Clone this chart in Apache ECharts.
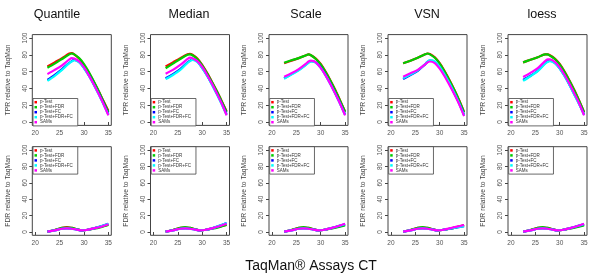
<!DOCTYPE html>
<html>
<head>
<meta charset="utf-8">
<script src="https://cdn.jsdelivr.net/npm/echarts@6/dist/echarts.min.js"></script>
<style>
  html, body { margin: 0; padding: 0; background: #fff; }
  #chart { width: 600px; height: 279px; }
</style>
</head>
<body>
<div id="chart"></div>
<script>
const panelNames = ['Quantile', 'Median', 'Scale', 'VSN', 'loess']
const seriesNames = ['p-Test', 'p-Test+FDR', 'p-Test+FC', 'p-Test+FDR+FC', 'SAMs']
const seriesColors = ['#ff0000', '#00cd00', '#0000ff', '#00ffff', '#ff00ff']
const xTicks = [20, 25, 30, 35]
const yTicks = [0, 20, 40, 60, 80, 100]

// TaqMan CT values where the curves are sampled
const xTpr = [22.5, 24, 25.5, 27, 27.5, 28, 29, 30, 31, 32, 33, 34, 35]
const xFdr = [22.5, 24, 25.5, 26.5, 27.5, 28.5, 29.5, 30.5, 32, 33.5, 35]

// TPR, rows: p-Test, +FDR, +FC, +FDR+FC, SAMs
const tprQuantile = [
  [66, 71, 76, 81.5, 82, 80.5, 75.5, 68, 58.5, 48, 37, 25, 13.5],
  [64.5, 69.5, 75, 80.5, 81.5, 80.5, 76, 69, 59.5, 48.5, 37, 24.5, 12],
  [50, 56, 63, 70.5, 72.5, 74, 71.5, 64.5, 55.5, 45, 34, 22, 9.5],
  [49, 55, 62, 70, 72, 73.5, 71, 64, 55, 44.5, 33, 21, 8.5],
  [57, 62, 67.5, 74.5, 76, 75.5, 72, 65, 55.5, 45, 33.5, 21.5, 8]
]
const tprMedian = [
  [66, 71, 76, 80.5, 81, 80, 75.5, 68, 58.5, 48, 37, 25, 13],
  [64, 69.5, 75, 80, 80.5, 79.5, 75, 67.5, 58, 47.5, 36.5, 24.5, 12],
  [52, 57, 63, 71, 73, 74.5, 72, 64.5, 55.5, 45, 34, 22, 9.5],
  [51, 56, 62, 70.5, 72.5, 74, 71.5, 64, 55, 44.5, 33, 21, 8.5],
  [57.5, 62, 68, 75, 76.5, 76, 72.5, 65.5, 56, 45.5, 34, 22, 8]
]
const tprScale = [
  [70, 73, 76, 79.5, 80.5, 79.5, 75.5, 69, 60, 49.5, 38, 25.5, 12.5],
  [70.5, 73.5, 76, 79.5, 80.5, 79.5, 75, 68.5, 59.5, 49, 37.5, 25, 12],
  [52, 57, 62, 68.5, 71, 72.5, 71, 65, 56, 45.5, 34, 22, 9],
  [51.5, 56.5, 61.5, 68, 70.5, 72, 70.5, 64.5, 55.5, 45, 33.5, 21.5, 8.5],
  [54, 58, 63, 69.5, 72, 73, 71, 64.5, 55.5, 45, 33.5, 21.5, 8]
]
const tprVSN = [
  [70, 73, 76.5, 80.5, 81.5, 81, 77, 70, 60.5, 50, 38.5, 26, 12],
  [70, 73, 76.5, 80.5, 81.5, 80.5, 76.5, 69.5, 60, 49.5, 38, 25.5, 11.5],
  [51, 56, 61, 68.5, 71.5, 73, 71.5, 65, 56, 45.5, 34, 22, 8.5],
  [52, 56.5, 61.5, 69, 72, 73.5, 72, 65.5, 56.5, 46, 34.5, 22, 8],
  [54, 58, 62, 68.5, 71, 72, 70, 63.5, 54.5, 44, 33, 21, 7]
]
const tprLoess = [
  [71, 74, 77, 80.5, 80.5, 79.5, 75.5, 69, 60, 49.5, 38, 25.5, 12],
  [71, 74, 77, 80.5, 80.5, 79, 75, 68.5, 59.5, 49, 37.5, 25, 11.5],
  [50, 55, 61, 70, 72, 73, 70.5, 64, 55, 44.5, 33, 21.5, 9],
  [49, 54.5, 60.5, 69.5, 71.5, 72.5, 70, 63.5, 54.5, 44, 32.5, 21, 8.5],
  [53.5, 58.5, 64, 72.5, 74.5, 74.5, 71.5, 65, 56, 45.5, 34, 22, 8]
]

// FDR, same row order
const fdrQuantile = [
  [0.5, 2.5, 5, 6, 5, 3.5, 2, 2.5, 4.5, 6.5, 9],
  [0.5, 2.5, 5, 5.5, 5, 3.5, 2, 2.5, 4, 6, 8.5],
  [0.5, 2, 4, 4.5, 4, 3, 2, 2.5, 4.5, 7, 10],
  [0.5, 2, 4, 4.5, 4, 3, 2, 2.5, 4.5, 7, 10],
  [0.5, 2, 4, 4.5, 4, 3, 2, 2.5, 4.5, 6.5, 9.5]
]
const fdrMedian = [
  [0.5, 2.5, 5, 5.5, 5, 3.5, 2, 2.5, 4.5, 6.5, 9],
  [0.5, 2.5, 5, 6, 5, 3.5, 2, 2.5, 4, 6, 8.5],
  [0.5, 2, 4, 4.5, 4, 3, 2, 2.5, 4.5, 7.5, 11],
  [0.5, 2, 4, 4.5, 4, 3, 2, 2.5, 4.5, 7.5, 11],
  [0.5, 2, 4, 4.5, 4, 3, 2, 2.5, 4.5, 7, 10]
]
const fdrScale = [
  [0.5, 2.5, 5, 5.5, 5, 3.5, 2, 2.5, 4.5, 6.5, 9],
  [0.5, 2.5, 5, 6, 5, 3.5, 2, 2.5, 4, 6, 8],
  [0.5, 2, 4, 4.5, 4, 3, 2, 2.5, 4.5, 7, 9.5],
  [0.5, 2, 4, 4.5, 4, 3, 2, 2.5, 4.5, 7, 9.5],
  [0.5, 2, 4, 4.5, 4, 3, 2, 2.5, 4.5, 7, 10]
]
const fdrVSN = [
  [0.5, 2.5, 5, 5.5, 5, 3.5, 2, 2.5, 4, 6, 8.5],
  [0.5, 2.5, 5, 6, 5, 3.5, 2, 2.5, 4, 6, 8],
  [0.5, 2, 4, 4.5, 4, 3, 2, 2.5, 4, 5.5, 7],
  [0.5, 2, 4, 4.5, 4, 3, 2, 2.5, 4, 5.5, 7],
  [0.5, 2, 4, 4.5, 4, 3, 2, 2.5, 4.5, 6.5, 8.5]
]
const fdrLoess = [
  [0.5, 2.5, 5, 5.5, 5, 3.5, 2, 2.5, 4.5, 6.5, 9],
  [0.5, 2.5, 5, 6, 5, 3.5, 2, 2.5, 4, 6, 8],
  [0.5, 2, 4, 4.5, 4, 3, 2, 2.5, 4.5, 7, 9.5],
  [0.5, 2, 4, 4.5, 4, 3, 2, 2.5, 4.5, 7, 9.5],
  [0.5, 2, 4, 4.5, 4, 3, 2, 2.5, 4.5, 7, 10]
]

const tprAll = [tprQuantile, tprMedian, tprScale, tprVSN, tprLoess]
const fdrAll = [fdrQuantile, fdrMedian, fdrScale, fdrVSN, fdrLoess]

const font = 'Liberation Sans, Arial, sans-serif'
const gridLefts = [32.3, 150.5, 269, 388, 508]
const titleCenters = [57, 189, 306, 427, 542]
const rows = [
  { top: 34.6, height: 90.8, name: 'TPR relative to TaqMan', legendTop: 98.5 },
  { top: 146.7, height: 88.6, name: 'FDR relative to TaqMan', legendTop: 146.7 }
]

const grid = [], xAxis = [], yAxis = [], series = [], legend = [], graphic = []

rows.forEach((row, r) => {
  gridLefts.forEach((left, p) => {
    const idx = grid.length
    grid.push({
      left, top: row.top, width: 79, height: row.height,
      show: true, borderColor: '#444', borderWidth: 1, backgroundColor: 'transparent'
    })
    xAxis.push({
      type: 'value', gridIndex: idx, min: 19.4, max: 35.6,
      axisLine: { show: false },
      axisTick: { show: true, inside: false, length: 3, customValues: xTicks, lineStyle: { color: '#444' } },
      axisLabel: { customValues: xTicks, fontSize: 6.5, color: '#555', margin: 4.5, fontFamily: font },
      splitLine: { show: false }
    })
    yAxis.push({
      type: 'value', gridIndex: idx, min: -4, max: 104,
      name: row.name, nameLocation: 'middle', nameRotate: 90, nameGap: 21,
      nameTextStyle: { fontSize: 6.8, color: '#444', fontFamily: font },
      axisLine: { show: false },
      axisTick: { show: true, inside: false, length: 3, customValues: yTicks, lineStyle: { color: '#444' } },
      axisLabel: { customValues: yTicks, fontSize: 6.5, color: '#555', rotate: 90, margin: 4, fontFamily: font },
      splitLine: { show: false }
    })
    const xs = r === 0 ? xTpr : xFdr
    const vals = r === 0 ? tprAll[p] : fdrAll[p]
    vals.forEach((ys, s) => {
      series.push({
        name: seriesNames[s], type: 'line', xAxisIndex: idx, yAxisIndex: idx,
        data: xs.map((x, i) => [x, ys[i]]),
        showSymbol: false, smooth: 0.3, color: seriesColors[s],
        lineStyle: { width: 2.2 }, silent: true
      })
    })
    legend.push({
      data: seriesNames, left: left + 0.7, top: row.legendTop, orient: 'vertical',
      icon: 'rect', itemWidth: 2.5, itemHeight: 2.5, itemGap: 0,
      padding: [1.2, 5, 1.2, 1.5], borderColor: '#444', borderWidth: 0.8, borderRadius: 0,
      backgroundColor: '#fff',
      textStyle: { fontSize: 4.5, lineHeight: 4.8, color: '#333', padding: [0, 0, 0, -2], fontFamily: font },
      selectedMode: false
    })
  })
})

panelNames.forEach((name, p) => {
  graphic.push({
    type: 'text', x: titleCenters[p], y: 15,
    style: { text: name, font: '12.5px ' + font, fill: '#111', textAlign: 'center', textVerticalAlign: 'middle' }
  })
})
graphic.push({
  type: 'text', x: 311, y: 266,
  style: { text: 'TaqMan® Assays CT', font: '14px ' + font, fill: '#111', textAlign: 'center', textVerticalAlign: 'middle' }
})

const chart = echarts.init(document.getElementById('chart'), null, { renderer: 'canvas' })
chart.setOption({
  animation: false,
  backgroundColor: '#fff',
  grid, xAxis, yAxis, series, legend, graphic
})
</script>
</body>
</html>
